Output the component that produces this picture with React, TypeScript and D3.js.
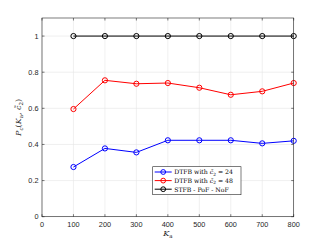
import React from "react";
import * as d3 from "d3";

const kValues = [100, 200, 300, 400, 500, 600, 700, 800];
const dtfb24 = [0.275, 0.378, 0.356, 0.423, 0.423, 0.423, 0.406, 0.42];
const dtfb48 = [0.596, 0.755, 0.736, 0.74, 0.714, 0.675, 0.694, 0.74];
const stfb = [1, 1, 1, 1, 1, 1, 1, 1];
const xTicks = [0, 100, 200, 300, 400, 500, 600, 700, 800];
const yTicks = [0, 0.2, 0.4, 0.6, 0.8, 1];

const series = [
  { name: "24", values: dtfb24, color: "#0000ff" },
  { name: "48", values: dtfb48, color: "#ff0000" },
  { name: "stfb", values: stfb, color: "#000000" },
];

export default function App() {
  const width = 324;
  const height = 243;
  const left = 42;
  const right = 293.7;
  const top = 18;
  const bottom = 216.7;

  const x = d3.scaleLinear().domain([0, 800]).range([left, right]);
  const y = d3.scaleLinear().domain([0, 1.1]).range([bottom, top]);

  const line = d3
    .line<number>()
    .x((d, i) => x(kValues[i]))
    .y((d) => y(d));

  const tickFont = "Helvetica, Arial, 'Liberation Sans', sans-serif";
  const texFont = "'DejaVu Serif', 'Liberation Serif', serif";

  const legX = 152.7;
  const legY = 166.7;
  const legW = 88.3;
  const legH = 28;
  const rowH = 8.6;

  return (
    <svg
      width={width}
      height={height}
      style={{ position: "absolute", left: 0, top: 0, background: "#fff" }}
    >
      <rect x={0} y={0} width={width} height={height} fill="#fff" />
      <rect x={left} y={top} width={right - left} height={bottom - top} fill="#fff" />
      {/* grid */}
      {xTicks.map((t) => (
        <line key={"gx" + t} x1={x(t)} x2={x(t)} y1={top} y2={bottom} stroke="#e6e6e6" strokeWidth={0.6} />
      ))}
      {yTicks.map((t) => (
        <line key={"gy" + t} x1={left} x2={right} y1={y(t)} y2={y(t)} stroke="#e6e6e6" strokeWidth={0.6} />
      ))}
      {/* series */}
      {series.map((s) => (
        <g key={s.name}>
          <path d={line(s.values) || ""} fill="none" stroke={s.color} strokeWidth={1} />
          {s.values.map((v, i) => (
            <circle key={i} cx={x(kValues[i])} cy={y(v)} r={2.6} fill="none" stroke={s.color} strokeWidth={1} />
          ))}
        </g>
      ))}
      {/* axes box */}
      <rect x={left} y={top} width={right - left} height={bottom - top} fill="none" stroke="#262626" strokeWidth={0.6} />
      {xTicks.map((t) => (
        <g key={"tx" + t}>
          <line x1={x(t)} x2={x(t)} y1={bottom} y2={bottom - 2.5} stroke="#262626" strokeWidth={0.6} />
          <line x1={x(t)} x2={x(t)} y1={top} y2={top + 2.5} stroke="#262626" strokeWidth={0.6} />
          <text x={x(t)} y={bottom + 10} textAnchor="middle" fontSize={7.3} fontFamily={tickFont} fill="#262626">
            {t}
          </text>
        </g>
      ))}
      {yTicks.map((t) => (
        <g key={"ty" + t}>
          <line x1={left} x2={left + 2.5} y1={y(t)} y2={y(t)} stroke="#262626" strokeWidth={0.6} />
          <line x1={right} x2={right - 2.5} y1={y(t)} y2={y(t)} stroke="#262626" strokeWidth={0.6} />
          <text x={left - 3.5} y={y(t) + 2.6} textAnchor="end" fontSize={7.3} fontFamily={tickFont} fill="#262626">
            {t}
          </text>
        </g>
      ))}
      {/* axis labels */}
      <text x={(left + right) / 2} y={236} textAnchor="middle" fontSize={8} fontFamily={texFont} fontStyle="italic" fill="#262626">
        K<tspan fontSize={5.5} dy={1.5} fontStyle="normal">a</tspan>
      </text>
      <text
        transform={`translate(21, ${(top + bottom) / 2}) rotate(-90)`}
        textAnchor="middle"
        fontSize={8}
        fontFamily={texFont}
        fill="#262626"
      >
        <tspan fontStyle="italic">P</tspan>
        <tspan fontSize={5.5} dy={1.5} fontStyle="italic">c</tspan>
        <tspan dy={-1.5}>(</tspan>
        <tspan fontStyle="italic">K</tspan>
        <tspan fontSize={5.5} dy={1.5}>a</tspan>
        <tspan dy={-1.5}>, </tspan>
        <tspan fontStyle="italic">c̃</tspan>
        <tspan fontSize={5.5} dy={1.5}>2</tspan>
        <tspan dy={-1.5}>)</tspan>
      </text>
      {/* legend */}
      <rect x={legX} y={legY} width={legW} height={legH} fill="#fff" stroke="#262626" strokeWidth={0.6} />
      {series.map((s, i) => {
        const cy = legY + 5.3 + i * rowH;
        return (
          <g key={"leg" + s.name}>
            <line x1={legX + 2} x2={legX + 19} y1={cy} y2={cy} stroke={s.color} strokeWidth={1} />
            <circle cx={legX + 10.5} cy={cy} r={2.4} fill="none" stroke={s.color} strokeWidth={1} />
            <text x={legX + 21.5} y={cy + 2.3} fontSize={6.2} fontFamily={texFont} fill="#000">
              {s.name === "stfb" ? (
                "STFB - PoF - NoF"
              ) : (
                <>
                  {"DTFB with "}
                  <tspan fontStyle="italic">c̃</tspan>
                  <tspan fontSize={4.3} dy={1.2}>2</tspan>
                  <tspan dy={-1.2}>{" = " + s.name}</tspan>
                </>
              )}
            </text>
          </g>
        );
      })}
    </svg>
  );
}
